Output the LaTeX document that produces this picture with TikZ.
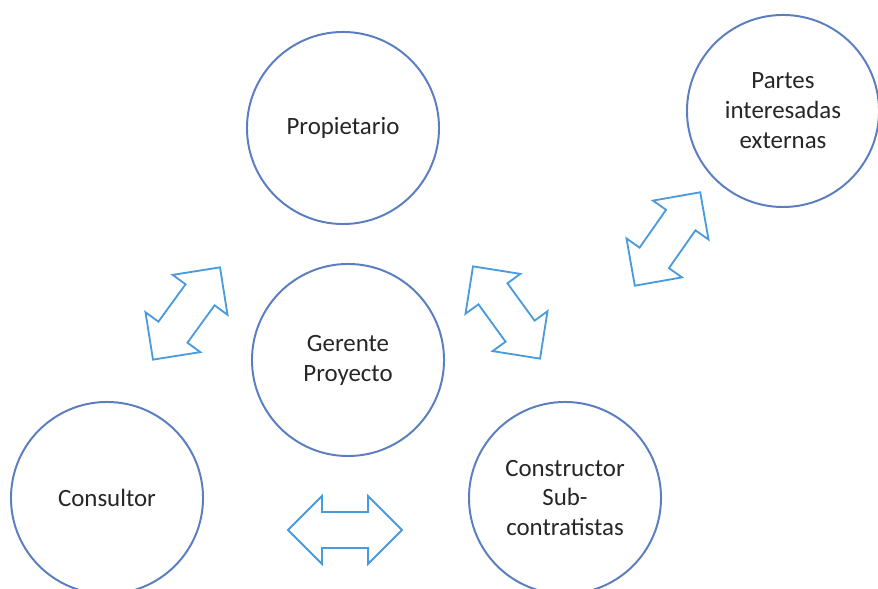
\documentclass[tikz,border=0pt]{standalone}
\usepackage{fontspec}
\setmainfont{Carlito}
\usepackage{xcolor}
\usepackage{tikz}
\usetikzlibrary{
    shapes.arrows,
    positioning
}
\definecolor{rolering}{HTML}{5A7EBF}
\definecolor{linkblue}{HTML}{4A9BDC}
\definecolor{roletext}{HTML}{262626}
\tikzset{
    % Stakeholder circle
    rolenode/.style={
        circle,
        draw=rolering,
        line width=1.4pt,
        fill=white,
        minimum size=4.8cm,
        inner sep=0pt,
        text=roletext,
        font=\fontsize{17.7}{21.3}\selectfont,
        align=center
    },
    % Two-way relation arrow
    twoway/.style={
        double arrow,
        draw=linkblue,
        line width=1.3pt,
        fill=white,
        minimum height=2.85cm,
        inner xsep=0pt,
        inner ysep=0.425cm,
        double arrow head extend=0.4cm,
        double arrow tip angle=90
    }
}
\begin{document}
\begin{tikzpicture}[x=0.025cm, y=0.025cm]

    % page frame
    \useasboundingbox (0,0) rectangle (878,589);

    % stakeholders
    \node[rolenode] (owner)    at (343,461) {Propietario};
    \node[rolenode] (manager)  at (348,229) {Gerente\\Proyecto};
    \node[rolenode] (advisor)  at (107,91)  {Consultor};
    \node[rolenode] (builder)  at (565,91)  {Constructor\\Sub-\\contratistas};
    \node[rolenode] (external) at (783,478) {Partes\\interesadas\\externas};

    % relations between them
    \node[twoway, rotate=54]  (arrOwnerLeft)  at (186.5,275.5) {};
    \node[twoway, rotate=-54] (arrBuilder)    at (506.5,276.5) {};
    \node[twoway, rotate=55]  (arrExternal)   at (667.5,350)   {};
    \node[twoway]             (arrBottom)     at (345,59)      {};

\end{tikzpicture}
\end{document}
